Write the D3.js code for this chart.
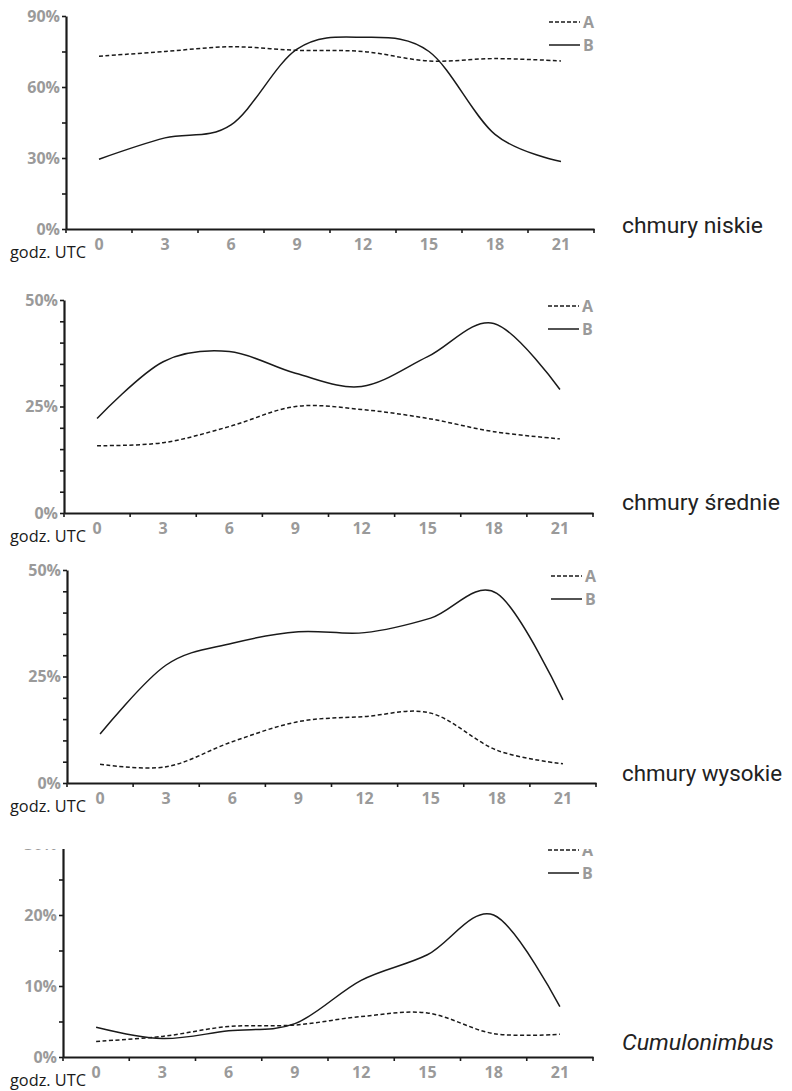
<!DOCTYPE html>
<html>
<head>
<meta charset="utf-8">
<script src="https://cdn.jsdelivr.net/npm/d3@7"></script>
<style>
  body { margin: 0; background: #fff; }
</style>
</head>
<body>
<script>
// godziny pomiarów (UTC)
var hours = [0, 3, 6, 9, 12, 15, 18, 21];

// chmury niskie
var niskieA = [73, 75, 77, 75.5, 75, 71, 72, 71];
var niskieB = [29.5, 38.5, 44, 76, 81, 75, 40, 28.5];

// chmury średnie
var srednieA = [15.8, 16.5, 20.3, 25, 24.3, 22.2, 19.1, 17.4];
var srednieB = [22.2, 35.5, 37.9, 32.8, 29.7, 36.7, 44.5, 29];

// chmury wysokie
var wysokieA = [4.4, 3.8, 9.7, 14.4, 15.6, 16.4, 7.7, 4.5];
var wysokieB = [11.5, 27.7, 32.8, 35.5, 35.3, 38.7, 44.5, 19.5];

// Cumulonimbus
var cbA = [2.2, 2.9, 4.3, 4.5, 5.7, 6.2, 3.3, 3.2];
var cbB = [4.2, 2.6, 3.7, 4.7, 10.8, 14.4, 20, 7.1];

var titles = ["chmury niskie", "chmury średnie", "chmury wysokie", "Cumulonimbus"];
var yMax = [90, 50, 50, 30];
var yMajor = [30, 25, 25, 10];
var yMinor = [15, 5, 5, 5];
var seriesNames = ["A", "B"];

var width = 792, height = 1091;
var grey = "#9a9a9a";

// rough layout of the 4 panels
var panels = [
  {left: 66, right: 594, top: 16,  bottom: 229,  titleY: 233,  titleW: 141, italic: false},
  {left: 64, right: 593, top: 300, bottom: 513,  titleY: 510,  titleW: 158, italic: false},
  {left: 67, right: 596, top: 570, bottom: 783,  titleY: 781,  titleW: 160, italic: false},
  {left: 63, right: 593, top: 844, bottom: 1057, titleY: 1050, titleW: 152, italic: true}
];
var data = [[niskieA, niskieB], [srednieA, srednieB], [wysokieA, wysokieB], [cbA, cbB]];

var svg = d3.select("body")
      .append("svg")
      .attr("width", width)
      .attr("height", height)
      .style("font-family", "'Open Sans', Lato, sans-serif");

// last panel is cut at its top in the original
svg.append("defs").append("clipPath")
    .attr("id", "cut")
  .append("rect")
    .attr("x", 0).attr("y", 849)
    .attr("width", width).attr("height", height - 849);

function styleTicks(axisG) {
  axisG.attr("font-family", null).attr("font-size", null);
  axisG.selectAll(".tick text")
    .attr("fill", grey)
    .style("font-family", "'Open Sans', Lato, sans-serif")
    .style("font-weight", "bold")
    .style("font-size", "16px");
}

panels.forEach(function(p, i) {
  var g = svg.append("g");
  if (i == 3) g.attr("clip-path", "url(#cut)");

  var xScale = d3.scaleBand()
        .domain(hours)
        .range([p.left, p.right])
        .padding(0);

  var yScale = d3.scaleLinear()
        .domain([0, yMax[i]])
        .range([p.bottom, p.top]);

  // y axis with minor ticks, labels only on major
  var yTicks = d3.range(0, yMax[i] + 0.001, yMinor[i]);
  var yAxis = g.append("g")
        .attr("transform", `translate(${p.left},0)`)
        .call(d3.axisLeft(yScale)
          .tickValues(yTicks)
          .tickSize(4)
          .tickSizeOuter(0)
          .tickPadding(2)
          .tickFormat(function(d) { return d % yMajor[i] === 0 ? d + "%" : ""; }));
  yAxis.select(".domain").attr("stroke", "#1a1a1a").attr("stroke-width", 2.2);
  yAxis.selectAll(".tick line").attr("stroke", "#1a1a1a").attr("stroke-width", 1.6);
  styleTicks(yAxis);

  // x axis: ticks on band borders, labels in band centers
  var xAxis = g.append("g")
        .attr("transform", `translate(0,${p.bottom})`)
        .call(d3.axisBottom(xScale).tickSize(0).tickPadding(10));
  xAxis.select(".domain").attr("stroke", "#1a1a1a").attr("stroke-width", 2.2);
  styleTicks(xAxis);

  d3.range(hours.length + 1).forEach(function(k) {
    var xx = p.left + k * xScale.bandwidth();
    g.append("line")
      .attr("x1", xx).attr("x2", xx)
      .attr("y1", p.bottom).attr("y2", p.bottom + 4)
      .attr("stroke", "#1a1a1a")
      .attr("stroke-width", 1.6);
  });

  g.append("text")
    .attr("x", 10)
    .attr("y", p.bottom + 29)
    .attr("textLength", 76)
    .attr("lengthAdjust", "spacingAndGlyphs")
    .style("font-size", "16px")
    .style("fill", "#1a1a1a")
    .text("godz. UTC");

  var valueline = d3.line()
        .x(function(d, k) { return xScale(hours[k]) + xScale.bandwidth() / 2; })
        .y(function(d) { return yScale(d); })
        .curve(d3.curveCardinal.tension(0));

  data[i].forEach(function(s, j) {
    g.append("path")
      .datum(s)
      .attr("fill", "none")
      .attr("stroke", "#1a1a1a")
      .attr("stroke-width", 1.5)
      .attr("stroke-dasharray", j == 0 ? "4,2.5" : null)
      .attr("d", valueline);
  });

  // legend
  seriesNames.forEach(function(name, j) {
    var ly = p.top + 6 + j * 23;
    var lx = p.right - 45;
    g.append("line")
      .attr("x1", lx).attr("x2", lx + 31)
      .attr("y1", ly).attr("y2", ly)
      .attr("stroke", "#1a1a1a")
      .attr("stroke-width", 1.5)
      .attr("stroke-dasharray", j == 0 ? "4,2" : null);
    g.append("text")
      .attr("x", lx + 34)
      .attr("y", ly)
      .attr("dy", "0.35em")
      .style("font-size", "16px")
      .style("font-weight", "bold")
      .style("fill", grey)
      .text(name);
  });

  svg.append("text")
    .attr("x", 622)
    .attr("y", p.titleY)
    .attr("textLength", p.titleW)
    .attr("lengthAdjust", "spacingAndGlyphs")
    .style("font-family", "Roboto, sans-serif")
    .style("font-size", "22px")
    .style("font-style", p.italic ? "italic" : "normal")
    .style("fill", "#222")
    .text(titles[i]);
});
</script>
</body>
</html>
